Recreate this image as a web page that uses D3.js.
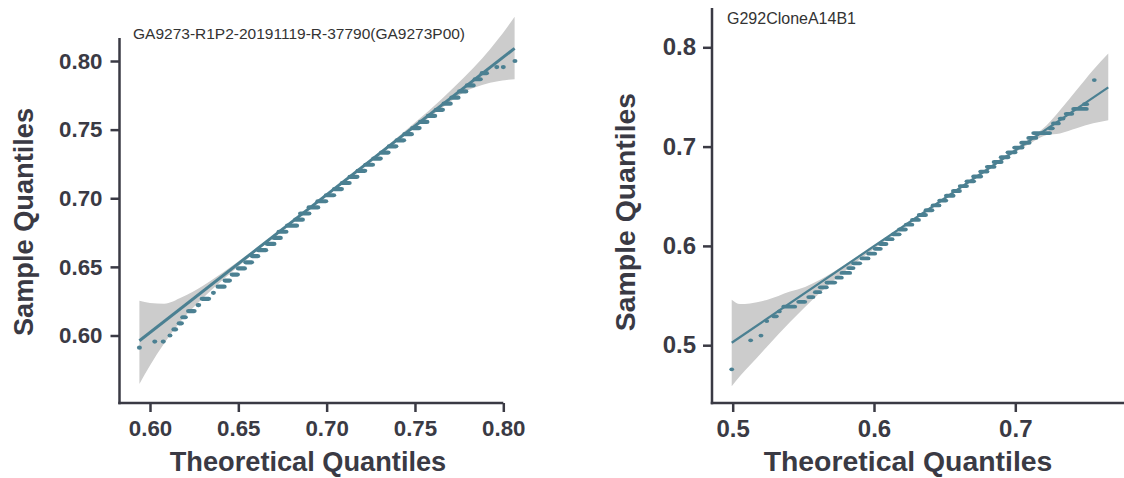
<!DOCTYPE html>
<html>
<head>
<meta charset="utf-8">
<script src="https://cdn.jsdelivr.net/npm/d3@7"></script>
<style>
  body { margin: 0; background: #fff; }
  text { font-family: "Liberation Sans", Arial, sans-serif; }
</style>
</head>
<body>
<svg id="chart" width="1124" height="478"></svg>
<script>
// ---- left panel data ----
const leftTitle = "GA9273-R1P2-20191119-R-37790(GA9273P00)"
const leftXTicks = [0.60, 0.65, 0.70, 0.75, 0.80]
const leftYTicks = [0.60, 0.65, 0.70, 0.75, 0.80]

// sample quantile level of each run of points, and the theoretical range it covers
const leftSample = [0.5911, 0.5956, 0.5956, 0.6000, 0.6044, 0.6089, 0.6133, 0.6178, 0.6222, 0.6267,
    0.6311, 0.6356, 0.6400, 0.6444, 0.6489, 0.6533, 0.6578, 0.6622, 0.6667, 0.6711,
    0.6756, 0.6800, 0.6844, 0.6889, 0.6933, 0.6978, 0.7022, 0.7067, 0.7111, 0.7156,
    0.7200, 0.7244, 0.7289, 0.7333, 0.7378, 0.7422, 0.7467, 0.7511, 0.7556, 0.7600,
    0.7644, 0.7689, 0.7733, 0.7778, 0.7822, 0.7867, 0.7911, 0.7956, 0.7956, 0.8000]
const leftFrom = [0.5940, 0.6027, 0.6075, 0.6113, 0.6135, 0.6165, 0.6185, 0.6218, 0.6272, 0.6295,
    0.6359, 0.6385, 0.6425, 0.6465, 0.6500, 0.6542, 0.6580, 0.6613, 0.6664, 0.6702,
    0.6730, 0.6778, 0.6824, 0.6852, 0.6900, 0.6950, 0.6998, 0.7044, 0.7088, 0.7132,
    0.7177, 0.7221, 0.7266, 0.7310, 0.7354, 0.7398, 0.7442, 0.7487, 0.7531, 0.7575,
    0.7620, 0.7664, 0.7708, 0.7752, 0.7796, 0.7840, 0.7880, 0.7963, 0.8000, 0.8066]
const leftTo = [0.5940, 0.6027, 0.6075, 0.6113, 0.6145, 0.6178, 0.6200, 0.6250, 0.6276, 0.6332,
    0.6359, 0.6420, 0.6450, 0.6495, 0.6535, 0.6575, 0.6610, 0.6655, 0.6702, 0.6738,
    0.6770, 0.6830, 0.6863, 0.6900, 0.6950, 0.6995, 0.7040, 0.7084, 0.7128, 0.7172,
    0.7216, 0.7260, 0.7304, 0.7348, 0.7392, 0.7436, 0.7480, 0.7524, 0.7568, 0.7612,
    0.7656, 0.7700, 0.7744, 0.7788, 0.7830, 0.7870, 0.7905, 0.7963, 0.8000, 0.8066]

const leftLineX = [0.5940, 0.8064]
const leftLineY = [0.5962, 0.8092]

const leftBandX = [0.594, 0.600, 0.608, 0.618, 0.630, 0.645, 0.670, 0.700, 0.730, 0.750, 0.765, 0.778, 0.788, 0.797, 0.802, 0.8064]
const leftBandHi = [0.6253, 0.6237, 0.6232, 0.6278, 0.6363, 0.6494, 0.6734, 0.7033, 0.7338, 0.7552, 0.7722, 0.7883, 0.8018, 0.8158, 0.8243, 0.8322]
const leftBandLo = [0.5647, 0.5782, 0.5942, 0.6113, 0.6273, 0.6449, 0.6714, 0.7017, 0.7318, 0.7512, 0.7655, 0.7775, 0.7825, 0.7852, 0.7862, 0.7867]

// ---- right panel data ----
const rightTitle = "G292CloneA14B1"
const rightXTicks = [0.5, 0.6, 0.7]
const rightYTicks = [0.5, 0.6, 0.7, 0.8]

const rightSample = [0.4757, 0.5049, 0.5097, 0.5243, 0.5291, 0.5340, 0.5388, 0.5437, 0.5485, 0.5534,
    0.5583, 0.5631, 0.5680, 0.5728, 0.5777, 0.5825, 0.5874, 0.5922, 0.5971, 0.6019,
    0.6068, 0.6117, 0.6165, 0.6214, 0.6262, 0.6311, 0.6359, 0.6408, 0.6456, 0.6505,
    0.6553, 0.6602, 0.6650, 0.6699, 0.6748, 0.6796, 0.6845, 0.6893, 0.6942, 0.6990,
    0.7039, 0.7087, 0.7136, 0.7184, 0.7233, 0.7282, 0.7330, 0.7379, 0.7427, 0.7670]
const rightFrom = [0.4993, 0.5127, 0.5200, 0.5241, 0.5290, 0.5330, 0.5361, 0.5467, 0.5538, 0.5585,
    0.5620, 0.5667, 0.5738, 0.5773, 0.5821, 0.5856, 0.5915, 0.5962, 0.6008, 0.6045,
    0.6090, 0.6135, 0.6180, 0.6228, 0.6272, 0.6320, 0.6368, 0.6418, 0.6465, 0.6512,
    0.6562, 0.6610, 0.6658, 0.6705, 0.6755, 0.6802, 0.6850, 0.6900, 0.6948, 0.6995,
    0.7045, 0.7095, 0.7130, 0.7245, 0.7270, 0.7318, 0.7360, 0.7413, 0.7490, 0.7559]
const rightTo = [0.4993, 0.5127, 0.5200, 0.5241, 0.5309, 0.5330, 0.5439, 0.5510, 0.5568, 0.5616,
    0.5663, 0.5722, 0.5769, 0.5828, 0.5852, 0.5899, 0.5958, 0.6005, 0.6045, 0.6085,
    0.6128, 0.6178, 0.6222, 0.6268, 0.6315, 0.6365, 0.6410, 0.6460, 0.6508, 0.6560,
    0.6605, 0.6655, 0.6705, 0.6755, 0.6800, 0.6850, 0.6900, 0.6948, 0.6998, 0.7048,
    0.7098, 0.7145, 0.7243, 0.7262, 0.7305, 0.7338, 0.7400, 0.7503, 0.7505, 0.7559]

const rightLineX = [0.4993, 0.7658]
const rightLineY = [0.5025, 0.7597]

const rightBandX = [0.4993, 0.5052, 0.5122, 0.5241, 0.5406, 0.5512, 0.5618, 0.5759, 0.5971, 0.6184, 0.6538, 0.6892, 0.7104, 0.7222, 0.7316, 0.7434, 0.7551, 0.7658]
const rightBandHi = [0.5458, 0.5414, 0.5421, 0.5455, 0.5540, 0.5586, 0.5658, 0.5779, 0.5984, 0.6189, 0.6531, 0.6876, 0.7082, 0.7216, 0.7367, 0.7569, 0.7771, 0.7937]
const rightBandLo = [0.4587, 0.4689, 0.4797, 0.4982, 0.5233, 0.5385, 0.5527, 0.5704, 0.5939, 0.6156, 0.6501, 0.6843, 0.7032, 0.7116, 0.7133, 0.7184, 0.7234, 0.7265]

// ---- drawing ----
const ink = "#3a3a44",
      teal = "#4b8092",
      bandFill = "#cccccc"

const svg = d3.select("#chart")
svg.append("rect").attr("width", 1124).attr("height", 478).attr("fill", "#fff")

function drawPanel(p) {
    const g = svg.append("g")
    const x = d3.scaleLinear().domain(p.xRef).range(p.xPx)
    const y = d3.scaleLinear().domain(p.yRef).range(p.yPx)

    const band = p.bandX.map((bx, i) => ({ x: bx, hi: p.bandHi[i], lo: p.bandLo[i] }))
    g.append("path")
        .datum(band)
        .attr("fill", bandFill)
        .attr("d", d3.area()
            .x(d => x(d.x))
            .y0(d => y(d.lo))
            .y1(d => y(d.hi))
            .curve(d3.curveMonotoneX))

    const runs = p.sample.map((s, i) => ({ s, from: p.from[i], to: p.to[i] }))
    g.selectAll("rect.pt").data(runs).enter()
        .append("rect")
        .attr("class", "pt")
        .attr("fill", teal)
        .attr("x", d => x(d.from) - p.dotW)
        .attr("y", d => y(d.s) - p.dotH)
        .attr("width", d => x(d.to) - x(d.from) + 2 * p.dotW)
        .attr("height", 2 * p.dotH)
        .attr("rx", p.dotW)
        .attr("ry", p.dotH)

    g.append("line")
        .attr("stroke", teal)
        .attr("stroke-width", p.lineW)
        .attr("x1", x(p.lineX[0])).attr("y1", y(p.lineY[0]))
        .attr("x2", x(p.lineX[1])).attr("y2", y(p.lineY[1]))

    // spines
    g.append("line")
        .attr("stroke", ink).attr("stroke-width", 2.5)
        .attr("x1", p.frame.left).attr("x2", p.frame.left)
        .attr("y1", p.frame.top).attr("y2", p.frame.bottom + 1.25)
    g.append("line")
        .attr("stroke", ink).attr("stroke-width", 2.5)
        .attr("x1", p.frame.left - 1.25).attr("x2", p.frame.right)
        .attr("y1", p.frame.bottom).attr("y2", p.frame.bottom)

    const xAxis = g.append("g")
        .attr("transform", `translate(0, ${p.frame.bottom})`)
        .call(d3.axisBottom(x).tickValues(p.xTicks).tickFormat(d3.format(p.fmt))
            .tickSize(9).tickPadding(8))
    const yAxis = g.append("g")
        .attr("transform", `translate(${p.frame.left}, 0)`)
        .call(d3.axisLeft(y).tickValues(p.yTicks).tickFormat(d3.format(p.fmt))
            .tickSize(9).tickPadding(p.yPad))

    for (const a of [xAxis, yAxis]) {
        a.select(".domain").remove()
        a.selectAll(".tick line").attr("stroke", ink).attr("stroke-width", 2.5)
        a.selectAll(".tick text")
            .attr("fill", ink)
            .attr("font-weight", "bold")
            .attr("font-size", p.tickFont)
            .attr("font-family", "Liberation Sans, Arial, sans-serif")
    }

    g.append("text")
        .attr("x", p.xTitlePos[0]).attr("y", p.xTitlePos[1])
        .attr("text-anchor", "middle")
        .attr("font-weight", "bold")
        .attr("font-size", p.titleFont)
        .attr("fill", ink)
        .text("Theoretical Quantiles")

    g.append("text")
        .attr("transform", `translate(${p.yTitlePos[0]}, ${p.yTitlePos[1]}) rotate(-90)`)
        .attr("text-anchor", "middle")
        .attr("font-weight", "bold")
        .attr("font-size", p.titleFont)
        .attr("fill", ink)
        .text("Sample Quantiles")

    g.append("text")
        .attr("x", p.namePos[0]).attr("y", p.namePos[1])
        .attr("font-size", p.nameFont)
        .attr("fill", "#333")
        .text(p.name)
}

drawPanel({
    name: leftTitle, nameFont: 15.5, namePos: [133, 38.5],
    xRef: [0.60, 0.80], xPx: [150, 503.3],
    yRef: [0.60, 0.80], yPx: [335.5, 61],
    frame: { left: 119.5, right: 503.3, top: 38, bottom: 403 },
    xTicks: leftXTicks, yTicks: leftYTicks, fmt: ".2f",
    sample: leftSample, from: leftFrom, to: leftTo,
    lineX: leftLineX, lineY: leftLineY, lineW: 3,
    bandX: leftBandX, bandHi: leftBandHi, bandLo: leftBandLo,
    dotW: 2.5, dotH: 2.1, yPad: 8,
    tickFont: 22.3, titleFont: 27.2,
    xTitlePos: [308, 471], yTitlePos: [33, 222]
})

drawPanel({
    name: rightTitle, nameFont: 16, namePos: [727, 24],
    xRef: [0.5, 0.7], xPx: [732.7, 1015.3],
    yRef: [0.5, 0.8], yPx: [345.2, 47.3],
    frame: { left: 712, right: 1124, top: 8, bottom: 403 },
    xTicks: rightXTicks, yTicks: rightYTicks, fmt: ".1f",
    sample: rightSample, from: rightFrom, to: rightTo,
    lineX: rightLineX, lineY: rightLineY, lineW: 2.2,
    bandX: rightBandX, bandHi: rightBandHi, bandLo: rightBandLo,
    dotW: 2.4, dotH: 1.9, yPad: 7,
    tickFont: 24, titleFont: 28.4,
    xTitlePos: [908, 471], yTitlePos: [635, 212]
})
</script>
</body>
</html>
